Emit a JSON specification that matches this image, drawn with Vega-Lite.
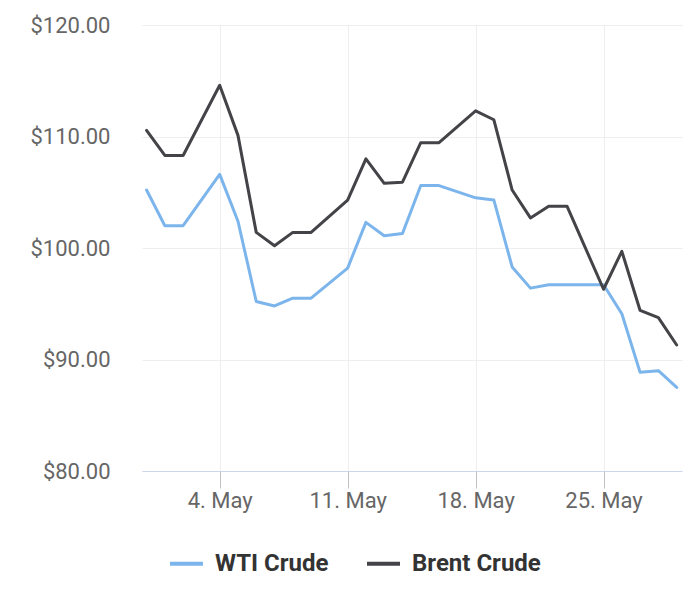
{
  "$schema": "https://vega.github.io/schema/vega-lite/v6.json",
  "width": 540,
  "height": 446,
  "autosize": {"type": "none"},
  "padding": {"left": 142, "top": 25, "right": 18, "bottom": 118},
  "background": "#ffffff",
  "config": {
    "font": "Roboto",
    "view": {"stroke": null}
  },
  "data": {
    "values": [
      {"date": "2020-04-30", "series": "WTI Crude", "price": 105.2},
      {"date": "2020-05-01", "series": "WTI Crude", "price": 102.0},
      {"date": "2020-05-02", "series": "WTI Crude", "price": 102.0},
      {"date": "2020-05-04", "series": "WTI Crude", "price": 106.6},
      {"date": "2020-05-05", "series": "WTI Crude", "price": 102.4},
      {"date": "2020-05-06", "series": "WTI Crude", "price": 95.2},
      {"date": "2020-05-07", "series": "WTI Crude", "price": 94.8},
      {"date": "2020-05-08", "series": "WTI Crude", "price": 95.5},
      {"date": "2020-05-09", "series": "WTI Crude", "price": 95.5},
      {"date": "2020-05-11", "series": "WTI Crude", "price": 98.2},
      {"date": "2020-05-12", "series": "WTI Crude", "price": 102.3},
      {"date": "2020-05-13", "series": "WTI Crude", "price": 101.1},
      {"date": "2020-05-14", "series": "WTI Crude", "price": 101.3},
      {"date": "2020-05-15", "series": "WTI Crude", "price": 105.6},
      {"date": "2020-05-16", "series": "WTI Crude", "price": 105.6},
      {"date": "2020-05-18", "series": "WTI Crude", "price": 104.5},
      {"date": "2020-05-19", "series": "WTI Crude", "price": 104.3},
      {"date": "2020-05-20", "series": "WTI Crude", "price": 98.3},
      {"date": "2020-05-21", "series": "WTI Crude", "price": 96.4},
      {"date": "2020-05-22", "series": "WTI Crude", "price": 96.7},
      {"date": "2020-05-23", "series": "WTI Crude", "price": 96.7},
      {"date": "2020-05-25", "series": "WTI Crude", "price": 96.7},
      {"date": "2020-05-26", "series": "WTI Crude", "price": 94.1},
      {"date": "2020-05-27", "series": "WTI Crude", "price": 88.85},
      {"date": "2020-05-28", "series": "WTI Crude", "price": 89.0},
      {"date": "2020-05-29", "series": "WTI Crude", "price": 87.5},
      {"date": "2020-04-30", "series": "Brent Crude", "price": 110.55},
      {"date": "2020-05-01", "series": "Brent Crude", "price": 108.3},
      {"date": "2020-05-02", "series": "Brent Crude", "price": 108.3},
      {"date": "2020-05-04", "series": "Brent Crude", "price": 114.6},
      {"date": "2020-05-05", "series": "Brent Crude", "price": 110.1},
      {"date": "2020-05-06", "series": "Brent Crude", "price": 101.4},
      {"date": "2020-05-07", "series": "Brent Crude", "price": 100.2},
      {"date": "2020-05-08", "series": "Brent Crude", "price": 101.4},
      {"date": "2020-05-09", "series": "Brent Crude", "price": 101.4},
      {"date": "2020-05-11", "series": "Brent Crude", "price": 104.3},
      {"date": "2020-05-12", "series": "Brent Crude", "price": 108.0},
      {"date": "2020-05-13", "series": "Brent Crude", "price": 105.8},
      {"date": "2020-05-14", "series": "Brent Crude", "price": 105.9},
      {"date": "2020-05-15", "series": "Brent Crude", "price": 109.45},
      {"date": "2020-05-16", "series": "Brent Crude", "price": 109.45},
      {"date": "2020-05-18", "series": "Brent Crude", "price": 112.3},
      {"date": "2020-05-19", "series": "Brent Crude", "price": 111.5},
      {"date": "2020-05-20", "series": "Brent Crude", "price": 105.2},
      {"date": "2020-05-21", "series": "Brent Crude", "price": 102.7},
      {"date": "2020-05-22", "series": "Brent Crude", "price": 103.75},
      {"date": "2020-05-23", "series": "Brent Crude", "price": 103.75},
      {"date": "2020-05-25", "series": "Brent Crude", "price": 96.3},
      {"date": "2020-05-26", "series": "Brent Crude", "price": 99.7},
      {"date": "2020-05-27", "series": "Brent Crude", "price": 94.4},
      {"date": "2020-05-28", "series": "Brent Crude", "price": 93.75},
      {"date": "2020-05-29", "series": "Brent Crude", "price": 91.3}
    ]
  },
  "mark": {"type": "line", "strokeWidth": 3, "strokeJoin": "round", "strokeCap": "round"},
  "encoding": {
    "x": {
      "field": "date",
      "type": "temporal",
      "title": null,
      "scale": {
        "type": "utc",
        "domain": [
          {"year": 2020, "month": "apr", "date": 29, "hours": 18, "utc": true},
          {"year": 2020, "month": "may", "date": 29, "hours": 7, "utc": true}
        ]
      },
      "axis": {
        "values": [
          {"year": 2020, "month": "may", "date": 4, "utc": true},
          {"year": 2020, "month": "may", "date": 11, "utc": true},
          {"year": 2020, "month": "may", "date": 18, "utc": true},
          {"year": 2020, "month": "may", "date": 25, "utc": true}
        ],
        "format": "%-d. %b",
        "labelFontSize": 22,
        "labelColor": "#666666",
        "labelPadding": 2,
        "tickSize": 17,
        "tickColor": "#c0c0c0",
        "domainColor": "#ccd6eb",
        "grid": true,
        "gridColor": "#eeeeee",
        "labelFlush": false
      }
    },
    "y": {
      "field": "price",
      "type": "quantitative",
      "title": null,
      "scale": {"domain": [80, 120], "nice": false, "zero": false},
      "axis": {
        "values": [80, 90, 100, 110, 120],
        "format": "$,.2f",
        "labelFontSize": 22,
        "labelColor": "#666666",
        "labelPadding": 32,
        "ticks": false,
        "domain": false,
        "grid": true,
        "gridColor": "#eeeeee"
      }
    },
    "color": {
      "field": "series",
      "type": "nominal",
      "scale": {"domain": ["WTI Crude", "Brent Crude"], "range": ["#7cb5ec", "#434348"]},
      "legend": {
        "title": null,
        "orient": "none",
        "direction": "horizontal",
        "legendX": 26,
        "legendY": 520,
        "symbolType": "stroke",
        "symbolSize": 1089,
        "symbolStrokeWidth": 4,
        "labelFontSize": 24,
        "labelFontWeight": "bold",
        "labelColor": "#333333",
        "labelOffset": 10,
        "columnPadding": 30
      }
    }
  }
}
